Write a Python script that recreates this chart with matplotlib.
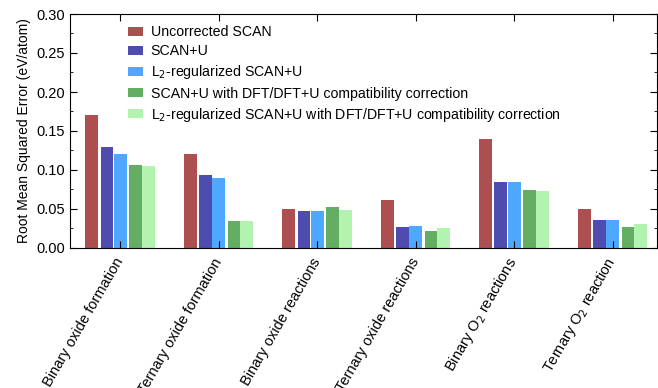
import matplotlib

matplotlib.use("Agg")
import matplotlib.pyplot as plt
import numpy as np

plt.rcParams["font.family"] = ["Liberation Sans", "DejaVu Sans"]

categories = [
    "Binary oxide formation",
    "Ternary oxide formation",
    "Binary oxide reactions",
    "Ternary oxide reactions",
    "Binary O$_2$ reactions",
    "Ternary O$_2$ reaction",
]
series_names = [
    "Uncorrected SCAN",
    "SCAN+U",
    "L$_2$-regularized SCAN+U",
    "SCAN+U with DFT/DFT+U compatibility correction",
    "L$_2$-regularized SCAN+U with DFT/DFT+U compatibility correction",
]
uncorrected = [0.171, 0.121, 0.050, 0.061, 0.140, 0.050]
scan_u = [0.130, 0.094, 0.048, 0.027, 0.084, 0.036]
l2_scan_u = [0.121, 0.090, 0.048, 0.028, 0.085, 0.036]
scan_u_corr = [0.107, 0.035, 0.052, 0.022, 0.075, 0.027]
l2_scan_u_corr = [0.105, 0.034, 0.049, 0.025, 0.073, 0.031]

colors = ["#ad4f50", "#4e4daf", "#4ea8ff", "#63ae63", "#b2f3b0"]
offsets = [-0.29, -0.135, 0.0, 0.155, 0.285]
width = 0.13

fig = plt.figure(figsize=(6.58, 3.88), dpi=100)
ax = fig.add_axes([70 / 658, 1 - 248 / 388, 587 / 658, 234 / 388])

x = np.arange(len(categories))
all_series = [uncorrected, scan_u, l2_scan_u, scan_u_corr, l2_scan_u_corr]
for vals, name, color, off in zip(all_series, series_names, colors, offsets):
    ax.bar(x + off, vals, width=width, color=color, label=name, linewidth=0)

ax.set_xlim(-0.51, 5.45)
ax.set_ylim(0, 0.30)
ax.set_yticks(np.arange(0, 0.301, 0.05))
ax.set_yticks(np.arange(0.025, 0.30, 0.05), minor=True)
ax.set_yticklabels([f"{v:.2f}" for v in np.arange(0, 0.301, 0.05)])
ax.set_xticks(x)
ax.set_xticklabels(categories, rotation=60, ha="right", va="center",
                   rotation_mode="anchor", fontsize=10.5)
ax.tick_params(axis="both", which="both", direction="in", top=True, right=True, labelsize=10.5)
ax.tick_params(axis="x", length=5, pad=8)
ax.tick_params(axis="y", which="major", length=5)
ax.tick_params(axis="y", which="minor", length=2.5)
ax.set_ylabel("Root Mean Squared Error (eV/atom)", fontsize=10)

ax.legend(
    loc="upper left",
    bbox_to_anchor=(0.099, 0.952),
    borderaxespad=0,
    borderpad=0,
    frameon=False,
    fontsize=10.2,
    handlelength=1.05,
    handleheight=0.6,
    handletextpad=0.55,
    labelspacing=0.36,
)

fig.savefig("out.png", dpi=100)
